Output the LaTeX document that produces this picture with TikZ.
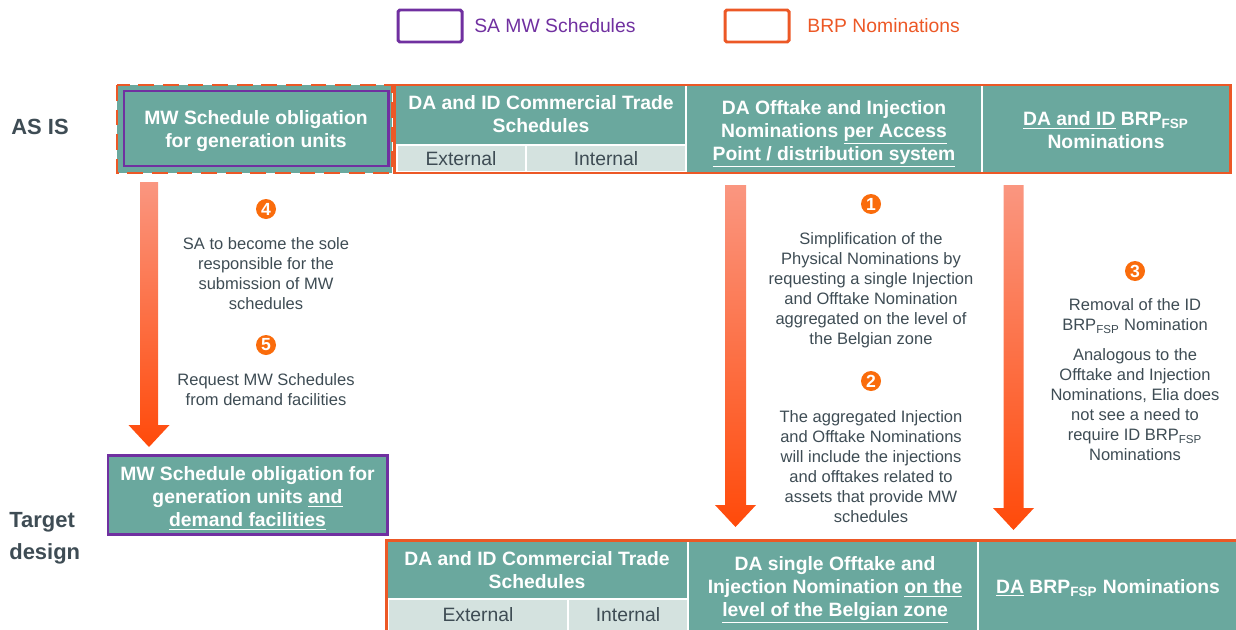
\documentclass[tikz,border=0pt]{standalone}
\usepackage{fontspec}
\setmainfont{Liberation Sans}
\usetikzlibrary{calc}

\definecolor{tealcell}{RGB}{106,168,158}
\definecolor{graycell}{RGB}{212,226,223}
\definecolor{brporange}{RGB}{236,88,38}
\definecolor{sapurple}{RGB}{112,48,160}
\definecolor{txtgray}{RGB}{62,76,84}
\definecolor{badgeorange}{RGB}{250,108,12}
\definecolor{arrowtop}{RGB}{250,150,128}
\definecolor{arrowbot}{RGB}{255,74,10}

\tikzset{
  headtext/.style={text=white, font=\bfseries\fontsize{11}{13}\selectfont, align=center, inner sep=0pt},
  bodytext/.style={text=txtgray, font=\fontsize{9.4}{11.4}\selectfont, align=center, inner sep=0pt},
  celltext/.style={text=txtgray, font=\fontsize{11}{13}\selectfont, inner sep=0pt},
  subcell/.style={fill=graycell, draw=white, line width=1.2pt},
  badgenum/.style={circle, fill=badgeorange, text=white, font=\bfseries\fontsize{10}{10}\selectfont, inner sep=0pt, minimum size=0.4cm},
  rowlabel/.style={text=txtgray, font=\bfseries\fontsize{12.5}{18}\selectfont, align=left, inner sep=0pt},
  brpline/.style={draw=brporange, line width=1.7pt},
  saline/.style={draw=sapurple, line width=1.7pt}
}

% shaded block arrow from #1 (top of shaft) to #2 (tip)
\newcommand{\blockarrow}[3]{%
  \shade[top color=arrowtop, bottom color=arrowbot]
    ($(#1)+(-#3,0)$) -- ($(#2)+(-#3,-22)$) -- ($(#2)+(-20.5,-22)$) -- (#2)
    -- ($(#2)+(20.5,-22)$) -- ($(#2)+(#3,-22)$) -- ($(#1)+(#3,0)$) -- cycle;}

\begin{document}
\begin{tikzpicture}[x=0.02cm,y=-0.02cm]
  \useasboundingbox (0,0) rectangle (1236,629);

  % legend
  \draw[saline, rounded corners=1pt] (398,10) rectangle (462,42);
  \node[anchor=west, text=sapurple, font=\fontsize{11}{13}\selectfont, inner sep=0pt] (legsa) at (474,26) {SA MW Schedules};
  \draw[brpline, rounded corners=1pt] (725,10) rectangle (789,42);
  \node[anchor=west, text=brporange, font=\fontsize{11}{13}\selectfont, inner sep=0pt] (legbrp) at (807,26) {BRP Nominations};

  % row labels
  \node[rowlabel, anchor=west] (asis) at (11,127) {AS IS};
  \node[rowlabel, anchor=west] (target) at (9,538) {Target\\design};

  % AS IS row
  \draw[brpline, dash pattern=on 9pt off 5pt, fill=tealcell] (117,85) rectangle (392,173);
  \draw[saline, fill=tealcell] (124,91) rectangle (388,166);
  \node[headtext] (oldmw) at (256,131) {MW Schedule obligation\\for generation units};

  \fill[tealcell] (394,85) rectangle (1230,173);
  \draw[subcell] (397,145) rectangle (526,172);
  \draw[subcell] (526,145) rectangle (686,172);
  \draw[white, line width=0.8pt] (686,86) -- (686,172);
  \draw[white, line width=0.8pt] (982,86) -- (982,172);
  \draw[brpline] (394,85) rectangle (1230,173);

  \node[headtext] (oldcts) at (541,114) {DA and ID Commercial Trade\\Schedules};
  \node[celltext] (oldext) at (461,159) {External};
  \node[celltext] (oldint) at (606,159) {Internal};
  \node[headtext] (oldnom) at (834,134) {DA Offtake and Injection\\Nominations \underline{per Access}\\\underline{Point / distribution system}};
  \node[headtext] (oldbrp) at (1106,130) {\underline{DA and ID} BRP\textsubscript{FSP}\\Nominations};

  % arrows
  \coordinate (arrMWtop) at (149,182);
  \coordinate (arrMWtip) at (149,447);
  \coordinate (arrNOMtop) at (735.5,185);
  \coordinate (arrNOMtip) at (735.5,527);
  \coordinate (arrBRPtop) at (1013.5,185);
  \coordinate (arrBRPtip) at (1013.5,530);
  \blockarrow{arrMWtop}{arrMWtip}{9}
  \blockarrow{arrNOMtop}{arrNOMtip}{10.5}
  \blockarrow{arrBRPtop}{arrBRPtip}{10}

  % changes
  \node[badgenum] (b4) at (266,209) {4};
  \node[bodytext] (t4) at (266,274) {SA to become the sole\\responsible for the\\submission of MW\\schedules};
  \node[badgenum] (b5) at (266,345) {5};
  \node[bodytext] (t5) at (266,390) {Request MW Schedules\\from demand facilities};

  \node[badgenum] (b1) at (871,204) {1};
  \node[bodytext] (t1) at (871,290) {Simplification of the\\Physical Nominations by\\requesting a single Injection\\and Offtake Nomination\\aggregated on the level of\\the Belgian zone};
  \node[badgenum] (b2) at (871,381) {2};
  \node[bodytext] (t2) at (871,467) {The aggregated Injection\\and Offtake Nominations\\will include the injections\\and offtakes related to\\assets that provide MW\\schedules};

  \node[badgenum] (b3) at (1135,271) {3};
  \node[bodytext] (t3a) at (1135,316) {Removal of the ID\\BRP\textsubscript{FSP} Nomination};
  \node[bodytext] (t3b) at (1135,405) {Analogous to the\\Offtake and Injection\\Nominations, Elia does\\not see a need to\\require ID BRP\textsubscript{FSP}\\Nominations};

  % target design row
  \draw[saline, fill=tealcell] (108,455) rectangle (387,534);
  \node[headtext] (newmw) at (247.5,498.5)
    {MW Schedule obligation for\\generation units \underline{and}\\\underline{demand facilities}};

  \fill[tealcell] (386,540) rectangle (1260,660);
  \draw[subcell] (388,599) rectangle (568,660);
  \draw[subcell] (568,599) rectangle (688,660);
  \draw[white, line width=0.8pt] (688,541) -- (688,660);
  \draw[white, line width=0.8pt] (978,541) -- (978,660);
  \draw[brpline] (386,540) rectangle (1260,660);

  \node[headtext] (newcts) at (537,570) {DA and ID Commercial Trade\\Schedules};
  \node[celltext] (newext) at (478,615) {External};
  \node[celltext] (newint) at (628,615) {Internal};
  \node[headtext] (newnom) at (835,590) {DA single Offtake and\\Injection Nomination \underline{on the}\\\underline{level of the Belgian zone}};
  \node[headtext] (newbrp) at (1108,588) {\underline{DA} BRP\textsubscript{FSP} Nominations};
\end{tikzpicture}
\end{document}
